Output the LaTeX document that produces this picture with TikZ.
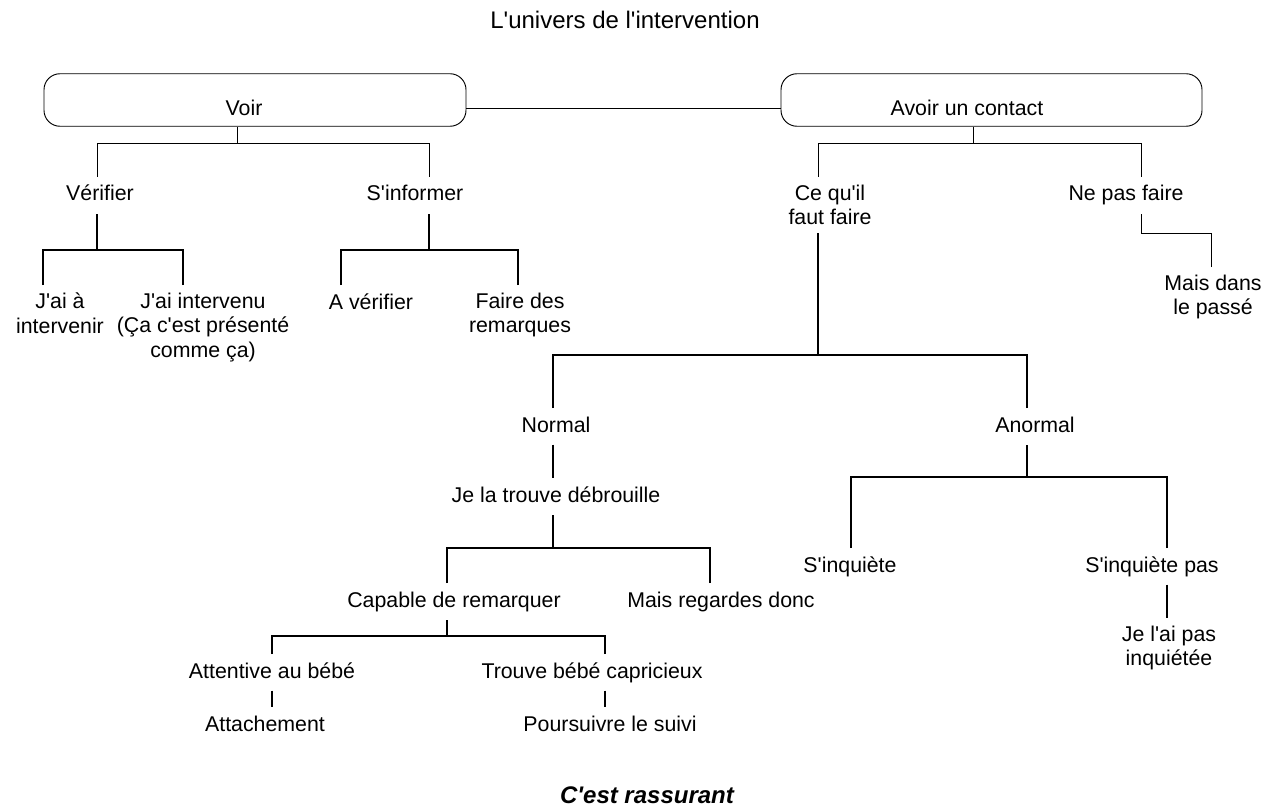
\documentclass[tikz,border=0pt]{standalone}
\usepackage{fontspec}
\setmainfont{Liberation Sans}[Ligatures=TeXOff]
\usepackage{tikz}
\tikzset{>=latex}

\begin{document}
\begin{tikzpicture}[x=0.75pt, y=-0.75pt]
            \tikzset{link/.style={black, line width=0.7pt}}
            \tikzset{branch/.style={black, line width=1.3pt}}
            \tikzset{word/.style={font=\fontsize{16}{18.4}\selectfont, anchor=north, inner xsep=1pt, inner ysep=5.8pt, text height=12pt, text depth=3.5pt}}
            \tikzset{words/.style={font=\fontsize{16}{18.4}\selectfont, anchor=north, inner xsep=1pt, inner ysep=5.8pt, align=center}}
            \tikzset{card/.style={draw, line width=0.7pt, rounded corners=12pt, inner sep=0pt, minimum height=39.4pt}}
            \useasboundingbox (0, 0) rectangle (1269, 809);
            \node[font=\fontsize{18}{21}\selectfont] (title) at (625, 20) {L'univers de l'intervention};
            % the two top boxes
            \node[card, minimum width=316.5pt, label={[font=\fontsize{16}{18.4}\selectfont, xshift=-8.25pt, yshift=-6pt]center:Voir}] (voir) at (255, 100) {};
            \node[card, minimum width=315.75pt, label={[font=\fontsize{16}{18.4}\selectfont, xshift=-18.4pt, yshift=-6pt]center:Avoir un contact}] (avoir) at (991.5, 100) {};
            \draw[link] ([yshift=-6pt]voir.east) -- ([yshift=-6pt]avoir.west);
            % Voir
            \node[word] (verif) at (100, 177) {Vérifier};
            \node[word] (sinf) at (415, 177) {S'informer};
            \node[words] (jaia) at (60, 285) {J'ai à\\intervenir};
            \node[words] (jaiint) at (203, 285) {J'ai intervenu\\(Ça c'est présenté\\comme ça)};
            \node[word] (averif) at (371, 285) {A vérifier};
            \node[words] (remarq) at (520, 285) {Faire des\\remarques};
            \draw[link] (verif.north -| 97, 0) -- ++(0, -34) -| (voir.south -| 237, 0);
            \draw[link] (sinf.north -| 429, 0) -- ++(0, -34) -| (voir.south -| 237, 0);
            \draw[branch] (jaia.north -| 43, 0) -- ++(0, -35) -| (verif.south -| 97, 0);
            \draw[branch] (jaiint.north -| 183, 0) -- ++(0, -35) -| (verif.south -| 97, 0);
            \draw[branch] (averif.north -| 341, 0) -- ++(0, -35) -| (sinf.south -| 429, 0);
            \draw[branch] (remarq.north -| 518, 0) -- ++(0, -35) -| (sinf.south -| 429, 0);
            % Avoir un contact
            \node[words] (cequil) at (830, 177) {Ce qu'il\\faut faire};
            \node[word] (nepas) at (1126, 177) {Ne pas faire};
            \node[words] (passe) at (1213, 267) {Mais dans\\le passé};
            \draw[link] (cequil.north -| 818, 0) -- ++(0, -34) -| (avoir.south -| 973, 0);
            \draw[link] (nepas.north -| 1141, 0) -- ++(0, -34) -| (avoir.south -| 973, 0);
            \draw[link] (passe.north -| 1211, 0) -- ++(0, -34) -| (nepas.south -| 1141, 0);
            % Normal
            \node[word] (normal) at (556, 408) {Normal};
            \node[word] (jela) at (556, 478) {Je la trouve débrouille};
            \node[word] (capable) at (454, 583) {Capable de remarquer};
            \node[word] (regardes) at (721, 583) {Mais regardes donc};
            \node[word] (attentive) at (272, 654) {Attentive au bébé};
            \node[word] (trouve) at (592, 654) {Trouve bébé capricieux};
            \node[word] (attach) at (265, 707) {Attachement};
            \node[word] (suivi) at (610, 707) {Poursuivre le suivi};
            \draw[branch] (normal.north -| 553, 0) -- ++(0, -53) -| (cequil.south -| 818, 0);
            \draw[branch] (normal.south -| 553, 0) -- (jela.north -| 553, 0);
            \draw[branch] (capable.north -| 447, 0) -- ++(0, -35) -| (jela.south -| 553, 0);
            \draw[branch] (regardes.north -| 710, 0) -- ++(0, -35) -| (jela.south -| 553, 0);
            \draw[branch] (attentive.north -| 272, 0) -- ++(0, -18) -| (capable.south -| 447, 0);
            \draw[branch] (trouve.north -| 605, 0) -- ++(0, -18) -| (capable.south -| 447, 0);
            \draw[branch] (attentive.south -| 272, 0) -- (attach.north -| 272, 0);
            \draw[branch] (trouve.south -| 605, 0) -- (suivi.north -| 605, 0);
            % Anormal
            \node[word] (anormal) at (1035, 408) {Anormal};
            \node[word] (sinq) at (850, 548) {S'inquiète};
            \node[word] (sinqpas) at (1152, 548) {S'inquiète pas};
            \node[words] (jelai) at (1169, 618) {Je l'ai pas\\inquiétée};
            \draw[branch] (anormal.north -| 1027, 0) -- ++(0, -53) -| (cequil.south -| 818, 0);
            \draw[branch] (sinq.north -| 851, 0) -- ++(0, -71) -| (anormal.south -| 1027, 0);
            \draw[branch] (sinqpas.north -| 1167, 0) -- ++(0, -71) -| (anormal.south -| 1027, 0);
            \draw[branch] (sinqpas.south -| 1167, 0) -- (jelai.north -| 1167, 0);
            \node[font=\fontsize{18}{21}\selectfont\bfseries\itshape] (rassurant) at (647, 795) {C'est rassurant};
\end{tikzpicture}
\end{document}
